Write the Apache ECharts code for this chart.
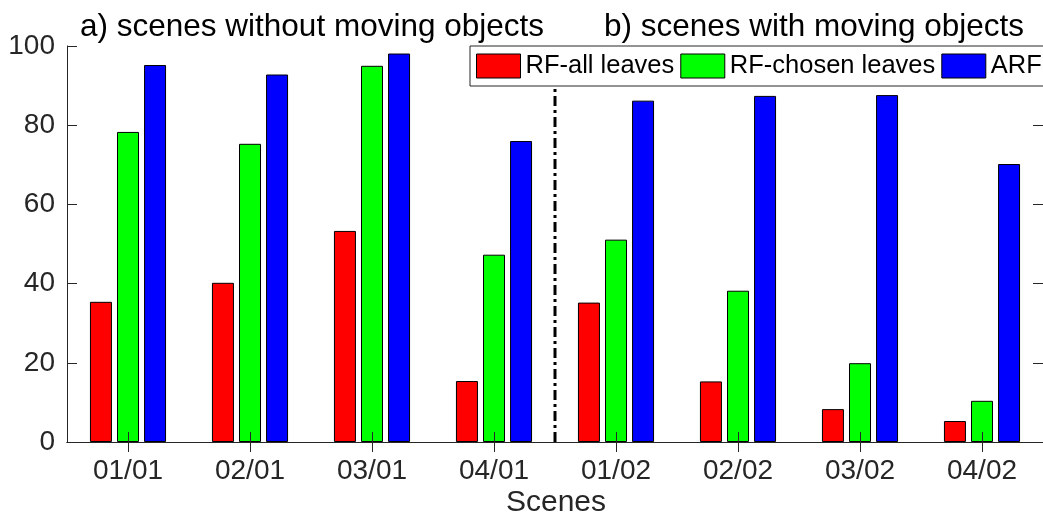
<!DOCTYPE html>
<html>
<head>
<meta charset="utf-8">
<script src="https://cdn.jsdelivr.net/npm/echarts@6/dist/echarts.min.js"></script>
<style>
html,body{margin:0;padding:0;background:#fff;}
#chart{width:1043px;height:516px;}
</style>
</head>
<body>
<div id="chart"></div>
<script>
const categories = ['01/01','02/01','03/01','04/01','01/02','02/02','03/02','04/02'];
const seriesNames = ['RF-all leaves','RF-chosen leaves','ARF'];
const rfAll = [35.4, 40.2, 53.3, 15.4, 35.2, 15.3, 8.3, 5.3];
const rfChosen = [78.3, 75.3, 95.0, 47.3, 51.1, 38.2, 19.9, 10.4];
const arf = [95.2, 92.8, 98.1, 76.0, 86.2, 87.4, 87.6, 70.2];
const yTicks = [0, 20, 40, 60, 80, 100];
const dividerX = 4; // boundary between the two scene groups
const titleA = 'a) scenes without moving objects';
const titleB = 'b) scenes with moving objects';
const xName = 'Scenes';

const FONT = '"Liberation Sans", Arial, Helvetica, sans-serif';
const AX = '#262626';
const chart = echarts.init(document.getElementById('chart'), null, {renderer:'canvas'});

const colors = ['#ff0000','#00ff00','#0000ff'];
const dataSets = [rfAll, rfChosen, arf];

const barSeries = dataSets.map((d, i) => ({
  name: seriesNames[i],
  type: 'bar',
  xAxisIndex: 0,
  yAxisIndex: 0,
  data: d,
  barWidth: 22,
  barGap: '23%',
  itemStyle: {color: colors[i], borderColor: '#000', borderWidth: 1},
  emphasis: {disabled: true},
  z: 2
}));

const option = {
  animation: false,
  backgroundColor: '#fff',
  textStyle: {fontFamily: FONT},
  grid: {left: 67, top: 46, width: 980, height: 396, containLabel: false},
  legend: {
    data: seriesNames,
    left: 470, top: 46, width: 640,
    orient: 'horizontal',
    padding: [7, 20, 7, 6],
    itemWidth: 44, itemHeight: 24, itemGap: 6,
    backgroundColor: '#fff',
    borderColor: AX, borderWidth: 1, borderRadius: 0,
    icon: 'rect',
    itemStyle: {borderColor: '#000', borderWidth: 1},
    textStyle: {fontSize: 25.5, color: '#000', fontFamily: FONT, padding: [0,0,0,0]},
    selectedMode: false,
    z: 10
  },
  xAxis: [
    {
      type: 'category', data: categories, position: 'bottom',
      boundaryGap: true,
      axisLine: {show: true, lineStyle: {color: AX, width: 1}},
      axisTick: {show: true, inside: true, length: 10, alignWithLabel: true, lineStyle: {color: AX}},
      axisLabel: {fontSize: 28, color: AX, margin: 15, fontFamily: FONT},
      splitLine: {show: false},
      z: 5
    },
    {
      type: 'category', data: categories, position: 'top',
      boundaryGap: true,
      axisLine: {show: true, lineStyle: {color: AX, width: 1}},
      axisTick: {show: true, inside: true, length: 10, alignWithLabel: true, lineStyle: {color: AX}},
      axisLabel: {show: false},
      splitLine: {show: false},
      z: 5
    },
    {
      type: 'value', min: 0, max: categories.length, show: false
    }
  ],
  yAxis: [
    {
      type: 'value', min: 0, max: 100, interval: 20, position: 'left',
      axisLine: {show: true, lineStyle: {color: AX, width: 1}},
      axisTick: {show: true, inside: true, length: 10, lineStyle: {color: AX}},
      axisLabel: {fontSize: 28, color: AX, margin: 12, fontFamily: FONT,
        formatter: v => yTicks.includes(v) ? String(v) : ''},
      splitLine: {show: false},
      z: 5
    },
    {
      type: 'value', min: 0, max: 100, interval: 20, position: 'right',
      axisLine: {show: true, lineStyle: {color: AX, width: 1}},
      axisTick: {show: true, inside: true, length: 10, lineStyle: {color: AX}},
      axisLabel: {show: false},
      splitLine: {show: false},
      z: 5
    }
  ],
  series: [
    ...barSeries,
    {
      name: 'divider',
      type: 'line',
      xAxisIndex: 2,
      yAxisIndex: 0,
      data: [[dividerX, 0], [dividerX, 100]],
      symbol: 'none',
      lineStyle: {color: '#000', width: 3, type: [10, 4, 3, 4]},
      emphasis: {disabled: true},
      z: 3
    }
  ],
  graphic: [
    {type: 'text', x: 312, y: 27,
      style: {text: titleA, font: '31.5px ' + FONT, fill: '#000', textAlign: 'center', textVerticalAlign: 'middle'}},
    {type: 'text', x: 814, y: 27,
      style: {text: titleB, font: '31.5px ' + FONT, fill: '#000', textAlign: 'center', textVerticalAlign: 'middle'}},
    {type: 'text', x: 556, y: 503,
      style: {text: xName, font: '30px ' + FONT, fill: AX, textAlign: 'center', textVerticalAlign: 'middle'}}
  ]
};
chart.setOption(option);
</script>
</body>
</html>
